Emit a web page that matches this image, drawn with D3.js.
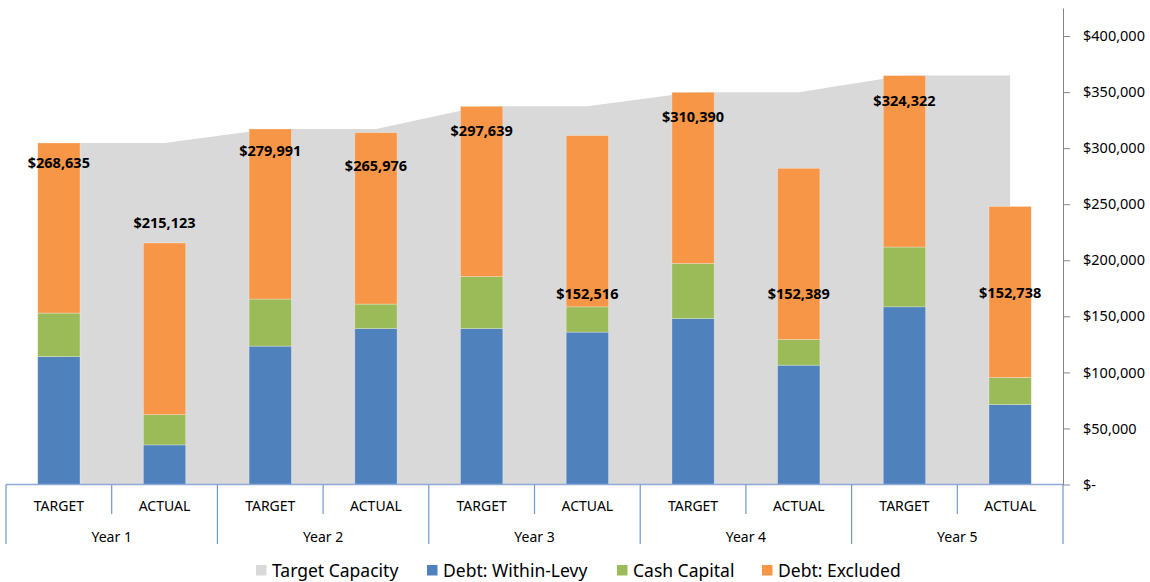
<!DOCTYPE html>
<html>
<head>
<meta charset="utf-8">
<script src="https://cdn.jsdelivr.net/npm/d3@7"></script>
<style>
  body { margin: 0; background: #fff; }
  text { font-family: "Noto Sans", "Open Sans", sans-serif; }
</style>
</head>
<body>
<svg id="chart" width="1150" height="582"></svg>
<script>
// data
var years = ["Year 1", "Year 2", "Year 3", "Year 4", "Year 5"];
var kinds = ["TARGET", "ACTUAL"];
var withinLevy  = [114100, 35300, 123400, 139100, 139100, 135900, 148000, 106400, 158500, 71300];
var cashCapital = [38800, 27000, 42000, 21800, 46400, 22600, 49100, 22900, 53300, 24100];
var excluded    = [151700, 153100, 151700, 152900, 151800, 152700, 152700, 152700, 152900, 152600];
var targetCapacity = [304600, 304600, 317100, 317100, 337300, 337300, 349800, 349800, 364700, 364700];
var labelValues = [268635, 215123, 279991, 265976, 297639, 152516, 310390, 152389, 324322, 152738];
var yTicks = [0, 50000, 100000, 150000, 200000, 250000, 300000, 350000, 400000];

var svg = d3.select("#chart");
var width = 1150, height = 582;

var cats = [];
years.forEach(function(y){ kinds.forEach(function(k){ cats.push(y + "|" + k); }); });

var x = d3.scaleBand().domain(cats).range([6, 1063]).padding(0);
var y = d3.scaleLinear().domain([0, 425000]).range([484.5, 8]);
var barW = x.bandwidth() / 2.5;
function cx(i){ return x(cats[i]) + x.bandwidth() / 2; }

// target capacity area
var area = d3.area()
    .x(function(d, i){ return cx(i); })
    .y0(y(0))
    .y1(function(d){ return y(d); });
svg.append("path")
    .datum(targetCapacity)
    .attr("d", area)
    .attr("fill", "#d9d9d9");

// stacked bars
var rows = cats.map(function(c, i){
    return { cat: c, within: withinLevy[i], cash: cashCapital[i], excl: excluded[i] };
});
var stack = d3.stack().keys(["within", "cash", "excl"]);
var colors = { within: "#4f81bd", cash: "#9bbb59", excl: "#f79646" };

svg.selectAll(".layer")
    .data(stack(rows))
    .enter().append("g")
    .attr("class", "layer")
    .attr("fill", function(d){ return colors[d.key]; })
    .selectAll("rect")
    .data(function(d){ return d; })
    .enter().append("rect")
    .attr("x", function(d){ return x(d.data.cat) + (x.bandwidth() - barW) / 2; })
    .attr("width", barW)
    .attr("y", function(d){ return y(d[1]); })
    .attr("height", function(d){ return y(d[0]) - y(d[1]); })
    .attr("stroke", "rgba(255,255,255,0.35)")
    .attr("stroke-width", 0.8);

// data labels
svg.selectAll(".dlabel")
    .data(labelValues)
    .enter().append("text")
    .attr("class", "dlabel")
    .attr("x", function(d, i){ return cx(i); })
    .attr("y", function(d){ return y(d) - 20; })
    .attr("dy", "0.35em")
    .attr("text-anchor", "middle")
    .attr("font-size", 14.5)
    .attr("font-weight", "bold")
    .attr("fill", "#000")
    .text(function(d){ return "$" + d3.format(",")(d); });

// value axis on the right
var yAxis = d3.axisRight(y)
    .tickValues(yTicks)
    .tickSize(7)
    .tickSizeOuter(0)
    .tickPadding(13)
    .tickFormat(function(v){ return v === 0 ? "$-" : "$" + d3.format(",")(v); });
var gy = svg.append("g")
    .attr("transform", "translate(1063,0)")
    .call(yAxis);
gy.select(".domain").attr("stroke", "#868686");
gy.selectAll(".tick line").attr("stroke", "#868686");
gy.selectAll(".tick text")
    .attr("font-size", 14.5)
    .attr("fill", "#000")
    .attr("font-family", "Noto Sans");

// category axis (two levels)
var axisColor = "#6f97cb";
var base = y(0);
var gx = svg.append("g");
gx.append("line")
    .attr("x1", 6).attr("x2", 1063)
    .attr("y1", base).attr("y2", base)
    .attr("stroke", "#8eaadb").attr("stroke-width", 1.5);

// dividers between TARGET / ACTUAL
gx.selectAll(".minor")
    .data(cats.filter(function(c, i){ return i % 2 === 1; }))
    .enter().append("line")
    .attr("x1", function(c){ return x(c); })
    .attr("x2", function(c){ return x(c); })
    .attr("y1", base).attr("y2", 514)
    .attr("stroke", axisColor).attr("stroke-width", 1.2);

// dividers between years
var yearEdges = cats.filter(function(c, i){ return i % 2 === 0; }).map(function(c){ return x(c); });
yearEdges.push(1063);
gx.selectAll(".major")
    .data(yearEdges)
    .enter().append("line")
    .attr("x1", function(d){ return d; })
    .attr("x2", function(d){ return d; })
    .attr("y1", base).attr("y2", 544)
    .attr("stroke", axisColor).attr("stroke-width", 1.2);

gx.selectAll(".kind")
    .data(cats)
    .enter().append("text")
    .attr("x", function(c, i){ return cx(i); })
    .attr("y", 506)
    .attr("dy", "0.35em")
    .attr("text-anchor", "middle")
    .attr("font-size", 14)
    .attr("fill", "#000")
    .text(function(c){ return c.split("|")[1]; });

gx.selectAll(".year")
    .data(years)
    .enter().append("text")
    .attr("x", function(d, i){ return x(cats[i * 2]) + x.bandwidth(); })
    .attr("y", 537)
    .attr("dy", "0.35em")
    .attr("text-anchor", "middle")
    .attr("font-size", 14)
    .attr("fill", "#000")
    .text(function(d){ return d; });

// legend
var legendItems = [
    { name: "Target Capacity", color: "#d9d9d9", x: 256 },
    { name: "Debt: Within-Levy", color: "#4f81bd", x: 427 },
    { name: "Cash Capital", color: "#9bbb59", x: 617 },
    { name: "Debt: Excluded", color: "#f79646", x: 762 }
];
var legend = svg.selectAll(".legend")
    .data(legendItems)
    .enter().append("g")
    .attr("class", "legend")
    .attr("transform", function(d){ return "translate(" + d.x + ",565)"; });
legend.append("rect")
    .attr("width", 10.5).attr("height", 10.5)
    .attr("fill", function(d){ return d.color; });
legend.append("text")
    .attr("x", 16)
    .attr("y", 6)
    .attr("dy", "0.35em")
    .attr("font-size", 17.5)
    .attr("fill", "#000")
    .text(function(d){ return d.name; });
</script>
</body>
</html>
